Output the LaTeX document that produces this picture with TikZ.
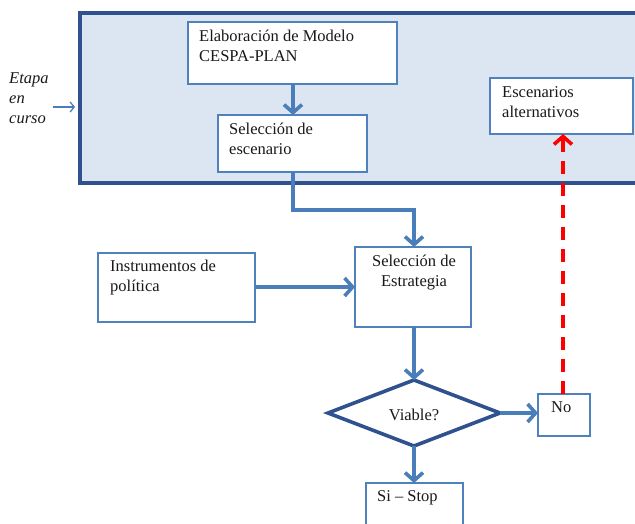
\documentclass[tikz,border=0pt]{standalone}
\usepackage{fontspec}
\setmainfont{Liberation Serif}
\usetikzlibrary{arrows.meta,shapes.geometric}
\definecolor{boxblue}{HTML}{4F81BD}
\definecolor{darkblue}{HTML}{2F528F}
\definecolor{panelfill}{HTML}{DCE6F2}
\definecolor{arrowblue}{HTML}{4A7EBB}
\tikzset{
  stepbox/.style={draw=boxblue, line width=1.8pt, fill=white, inner sep=0pt},
  barb/.style={-{Straight Barb[length=8pt,width=18pt,line width=3.6pt]}},
  flow/.style={draw=arrowblue, line width=3.6pt, barb},
  txt/.style={font=\fontsize{16.5}{20}\selectfont, text=black!90, align=left, anchor=north west, inner sep=0pt},
}
\begin{document}
\begin{tikzpicture}[x=1pt,y=-1pt]
\useasboundingbox (0,0) rectangle (635,523);
\clip (0,0) rectangle (635,523);

% panel for the current stage
\draw[draw=darkblue, fill=panelfill, line width=4pt] (80,13) rectangle (650,183);

% boxes
\draw[stepbox] (188,22) rectangle (397,84);
\node[txt] (tElab) at (199,30) {Elaboración de Modelo\\CESPA-PLAN};
\coordinate (elabB) at (293,84);

\draw[stepbox] (218,115) rectangle (367,172);
\node[txt] (tSel) at (229,123) {Selección de\\escenario};
\coordinate (selT) at (293,115);
\coordinate (selB) at (293,172);

\draw[stepbox] (490,78) rectangle (633,134);
\node[txt] (tEsc) at (502,86) {Escenarios\\alternativos};
\coordinate (escB) at (563,134);

\draw[stepbox] (98,253) rectangle (255,322);
\node[txt] (tIns) at (110,260) {Instrumentos de\\política};
\coordinate (insR) at (255,287);

\draw[stepbox] (355,247) rectangle (471,327);
\node[txt, align=center, anchor=north] (tEst) at (414,255) {Selección de\\Estrategia};
\coordinate (estT) at (414,247);
\coordinate (estL) at (355,287);
\coordinate (estB) at (414,327);

% decision
\draw[draw=darkblue, line width=3.6pt, fill=white, line join=miter]
  (414,380) -- (500,413) -- (414,446) -- (328,413) -- cycle;
\node[txt, anchor=center] (tViable) at (414,415) {Viable?};
\coordinate (dT) at (414,380);
\coordinate (dR) at (500,413);
\coordinate (dB) at (414,446);

\draw[stepbox] (538,394) rectangle (590,436);
\node[txt] (tNo) at (551,401) {No};
\coordinate (noL) at (538,413);
\coordinate (noT) at (563,394);

\draw[stepbox] (366,483) rectangle (463,540);
\node[txt] (tSi) at (377,490) {Si -- Stop};
\coordinate (siT) at (414,483);

% side label
\node[txt, font=\fontsize{16.5}{20}\selectfont\itshape] (tEtapa) at (9,72) {Etapa\\en\\curso};
\coordinate (eA) at (53,107);
\coordinate (eB) at (75,107);
\draw[draw=arrowblue, line width=1.3pt, -{Straight Barb[length=4pt,width=10pt,line width=1.3pt]}] (eA) -- (eB);

% connectors
\draw[flow] (elabB) -- (selT);
\draw[flow, line join=miter] (selB) |- (352,210) -| (estT);
\draw[flow] (insR) -- (estL);
\draw[flow] (estB) -- (dT);
\draw[flow] (dR) -- (noL);
\draw[flow] (dB) -- (siT);
\draw[draw=red, line width=3.6pt, dash pattern=on 13pt off 9pt, barb] (noT) -- (escB);
\end{tikzpicture}
\end{document}
